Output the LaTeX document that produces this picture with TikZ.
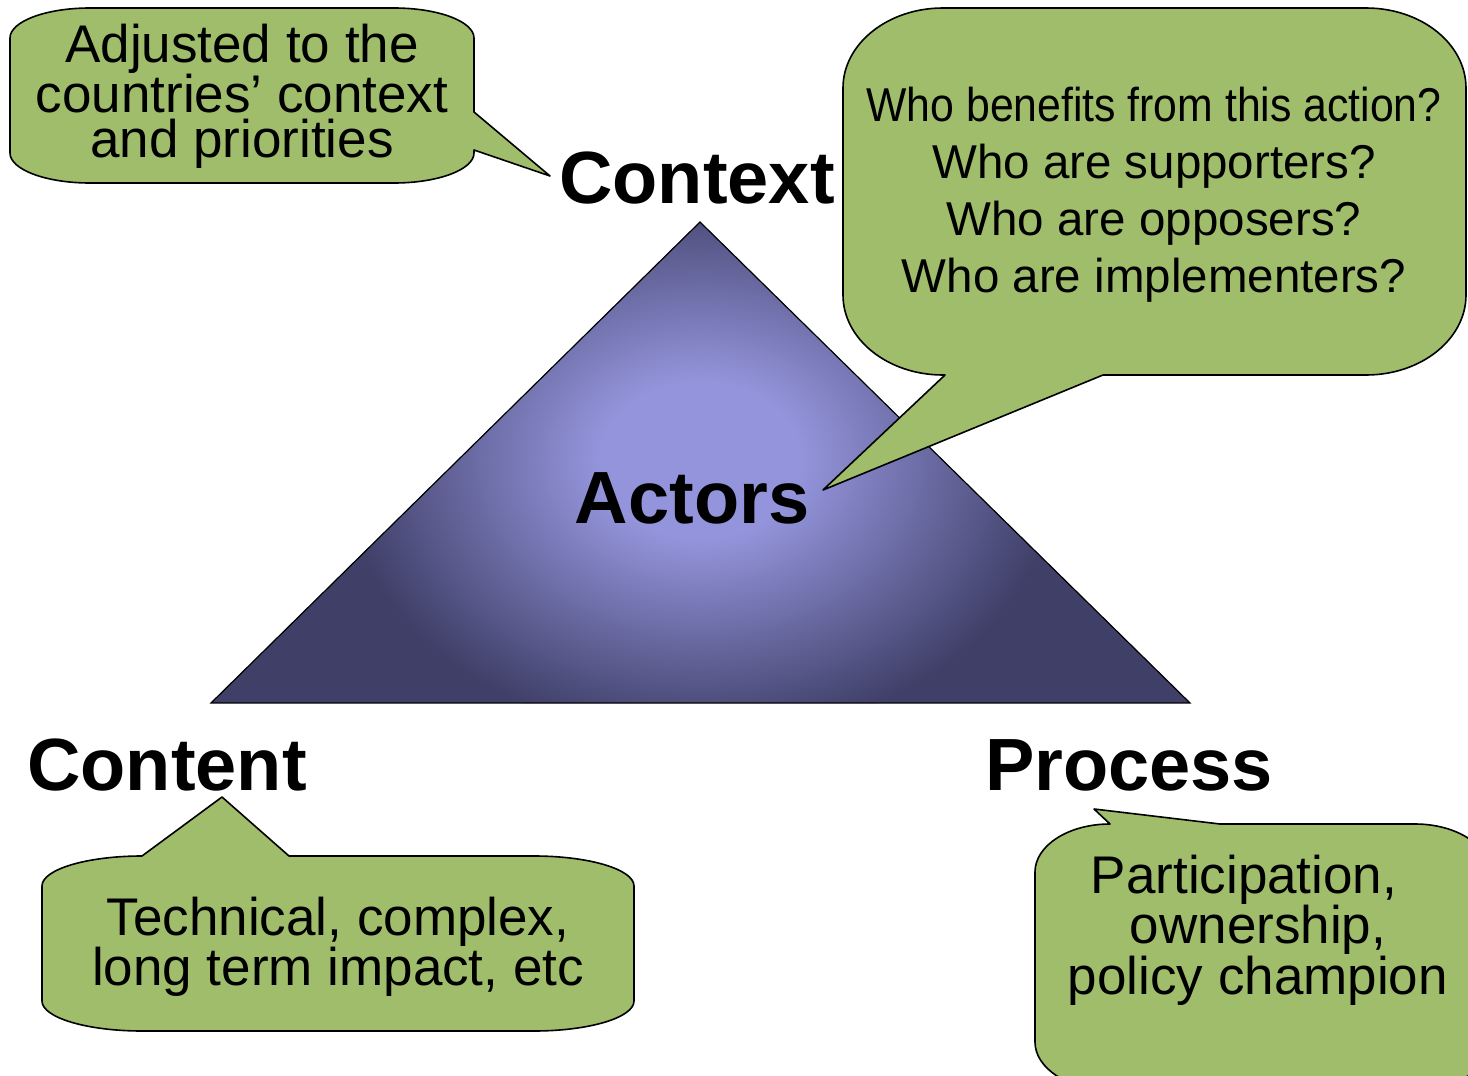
\documentclass[tikz,border=0pt]{standalone}
\usepackage{fontspec}
\setmainfont{Liberation Sans}
\usepackage{tikz}
\definecolor{calloutgreen}{HTML}{9FBD6A}
\definecolor{pyramiddark}{HTML}{3F3F68}
\definecolor{pyramidlight}{HTML}{9494DC}
\pgfdeclareradialshading{pyramidglow}{\pgfpoint{0bp}{0bp}}{color(0bp)=(pyramidlight); color(7bp)=(pyramidlight); color(25bp)=(pyramiddark); color(50bp)=(pyramiddark)}

\begin{document}
\begin{tikzpicture}[x=1pt, y=-1pt,
  callout/.style={fill=calloutgreen, draw=black, line width=1.6pt, line join=round},
  corner label/.style={font=\fontsize{74}{80}\selectfont\bfseries, inner sep=0pt, anchor=base},
  callout text/.style={font=\fontsize{53}{46}\selectfont, align=center, inner sep=0pt},
]
\useasboundingbox (0,0) rectangle (1468,1076);
\clip (0,0) rectangle (1468,1076);

% Pyramid
\begin{scope}
  \clip (700,222) -- (1190,703) -- (211,703) -- cycle;
  \fill[pyramiddark] (211,222) rectangle (1190,703);
  \shade[shading=pyramidglow] (700,460) ellipse (360 and 280);
\end{scope}
\draw[line width=1.2pt] (700,222) -- (1190,703) -- (211,703) -- cycle;

% Callouts
\draw[callout] (10,38) arc[start angle=180, end angle=270, x radius=80, y radius=30]
  -- (394,8) arc[start angle=270, end angle=360, x radius=80, y radius=30]
  -- (474,112) -- (550,176) -- (474,150)
  -- (474,153) arc[start angle=0, end angle=90, x radius=80, y radius=30]
  -- (90,183) arc[start angle=90, end angle=180, x radius=80, y radius=30] -- cycle;
\draw[callout] (843,88) arc[start angle=180, end angle=270, x radius=100, y radius=80]
  -- (1366,8) arc[start angle=270, end angle=360, x radius=100, y radius=80]
  -- (1466,295) arc[start angle=0, end angle=90, x radius=100, y radius=80]
  -- (1103,375) -- (823,490) -- (945,375)
  -- (943,375) arc[start angle=90, end angle=180, x radius=100, y radius=80] -- cycle;
\draw[callout] (42,886) arc[start angle=180, end angle=270, x radius=100, y radius=30]
  -- (222,797) -- (289,856)
  -- (534,856) arc[start angle=270, end angle=360, x radius=100, y radius=30]
  -- (634,1001) arc[start angle=0, end angle=90, x radius=100, y radius=30]
  -- (142,1031) arc[start angle=90, end angle=180, x radius=100, y radius=30] -- cycle;
\draw[callout] (1035,872) arc[start angle=180, end angle=270, x radius=75, y radius=48]
  -- (1094,809) -- (1220,824)
  -- (1415,824) arc[start angle=270, end angle=360, x radius=75, y radius=48]
  -- (1490,1042) arc[start angle=0, end angle=90, x radius=75, y radius=48]
  -- (1110,1090) arc[start angle=90, end angle=180, x radius=75, y radius=48] -- cycle;

% Labels
\node[corner label] (context) at (697,203) {Context};
\node[corner label] (actors) at (692,523) {Actors};
\node[corner label] (content) at (167,790) {Content};
\node[corner label] (process) at (1129,790) {Process};

% Callout texts
\node[callout text, font=\fontsize{53}{45}\selectfont] (adjusted) at (242,96) {Adjusted to the\\countries’ context\\and priorities};
\node[callout text, font=\fontsize{47.5}{57}\selectfont] (questions) at (1154,195) {\scalebox{0.9}[1]{Who benefits from this action?}\\Who are supporters?\\Who are opposers?\\Who are implementers?};
\node[callout text, font=\fontsize{53}{48}\selectfont] (technical) at (338,947) {Technical, complex,\\long term impact, etc};
\node[callout text, font=\fontsize{53}{47}\selectfont] (participation) at (1258,930) {Participation,\hspace*{28pt}\\ownership,\\policy champion};

\end{tikzpicture}
\end{document}
